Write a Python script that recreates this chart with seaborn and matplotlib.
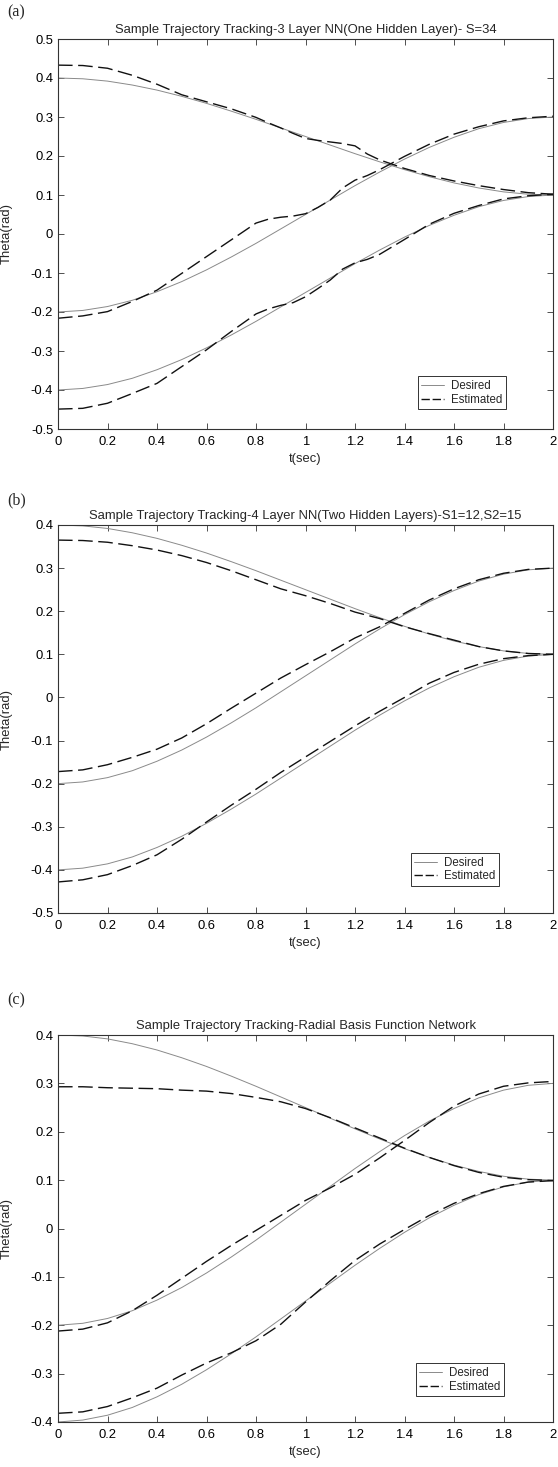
import numpy as np
import pandas as pd
import matplotlib
matplotlib.use("Agg")
import matplotlib.pyplot as plt
from matplotlib.lines import Line2D
from matplotlib.ticker import FuncFormatter, MultipleLocator
import seaborn as sns

# ---------------- data ----------------
t_grid = [0.0, 0.1, 0.2, 0.3, 0.4, 0.5, 0.6, 0.7, 0.8, 0.9, 1.0,
          1.1, 1.2, 1.3, 1.4, 1.5, 1.6, 1.7, 1.8, 1.9, 2.0]

# desired trajectories (same in all three panels)
des_top = [0.400, 0.398, 0.392, 0.382, 0.369, 0.353, 0.335, 0.315, 0.294, 0.272, 0.250,
           0.228, 0.206, 0.185, 0.165, 0.147, 0.131, 0.118, 0.108, 0.102, 0.100]
des_mid = [-0.200, -0.196, -0.186, -0.170, -0.148, -0.122, -0.092, -0.059, -0.024, 0.013, 0.050,
           0.087, 0.124, 0.159, 0.192, 0.222, 0.248, 0.270, 0.286, 0.296, 0.300]
des_bot = [-0.400, -0.396, -0.386, -0.370, -0.348, -0.322, -0.292, -0.259, -0.224, -0.187, -0.150,
           -0.113, -0.076, -0.041, -0.008, 0.022, 0.048, 0.070, 0.086, 0.096, 0.100]

# panel (a): 3 layer NN
t_a = [0.0, 0.1, 0.2, 0.3, 0.4, 0.5, 0.6, 0.7, 0.8, 0.85, 0.9, 0.95, 1.0, 1.05,
       1.1, 1.15, 1.2, 1.25, 1.3, 1.4, 1.5, 1.6, 1.7, 1.8, 1.9, 2.0]
est_a_top = [0.433, 0.432, 0.425, 0.407, 0.384, 0.357, 0.339, 0.321, 0.299, 0.285, 0.272, 0.258, 0.245,
             0.240, 0.236, 0.232, 0.226, 0.205, 0.190, 0.168, 0.150, 0.136, 0.124, 0.114, 0.106, 0.102]
est_a_mid = [-0.216, -0.210, -0.199, -0.173, -0.144, -0.101, -0.058, -0.015, 0.028, 0.038, 0.043, 0.046, 0.052,
             0.068, 0.087, 0.118, 0.138, 0.150, 0.165, 0.199, 0.230, 0.256, 0.275, 0.290, 0.298, 0.302]
est_a_bot = [-0.449, -0.447, -0.434, -0.409, -0.383, -0.340, -0.297, -0.250, -0.205, -0.192, -0.183, -0.176, -0.161,
             -0.140, -0.118, -0.090, -0.074, -0.065, -0.052, -0.014, 0.025, 0.053, 0.073, 0.090, 0.098, 0.102]

# panel (b): 4 layer NN
est_b_top = [0.365, 0.364, 0.360, 0.352, 0.342, 0.329, 0.313, 0.294, 0.273, 0.252, 0.236,
             0.218, 0.198, 0.183, 0.164, 0.148, 0.133, 0.118, 0.108, 0.102, 0.100]
est_b_mid = [-0.172, -0.168, -0.156, -0.139, -0.120, -0.094, -0.061, -0.025, 0.010, 0.045, 0.076,
             0.106, 0.138, 0.164, 0.195, 0.226, 0.252, 0.273, 0.288, 0.297, 0.300]
est_b_bot = [-0.428, -0.423, -0.411, -0.390, -0.365, -0.329, -0.289, -0.250, -0.213, -0.174, -0.138,
             -0.102, -0.066, -0.032, 0.000, 0.033, 0.058, 0.077, 0.090, 0.097, 0.100]

# panel (c): RBF network
est_c_top = [0.293, 0.293, 0.291, 0.290, 0.289, 0.286, 0.284, 0.279, 0.271, 0.262, 0.248,
             0.229, 0.208, 0.187, 0.166, 0.147, 0.130, 0.116, 0.106, 0.101, 0.099]
est_c_mid = [-0.212, -0.208, -0.195, -0.170, -0.138, -0.103, -0.068, -0.035, -0.004, 0.027, 0.058,
             0.084, 0.112, 0.146, 0.182, 0.219, 0.253, 0.278, 0.294, 0.301, 0.304]
est_c_bot = [-0.382, -0.379, -0.368, -0.350, -0.330, -0.303, -0.278, -0.257, -0.232, -0.198, -0.152,
             -0.108, -0.066, -0.032, -0.002, 0.027, 0.052, 0.072, 0.087, 0.096, 0.099]

titles = ["Sample Trajectory Tracking-3 Layer NN(One Hidden Layer)- S=34",
          "Sample Trajectory Tracking-4 Layer NN(Two Hidden Layers)-S1=12,S2=15",
          "Sample Trajectory Tracking-Radial Basis Function Network"]
panel_labels = ["(a)", "(b)", "(c)"]
ylims = [(-0.5, 0.5), (-0.5, 0.4), (-0.4, 0.4)]
legend_labels = ["Desired", "Estimated"]

# ---------------- style ----------------
sns.set_style("ticks")
plt.rcParams["font.family"] = ["Liberation Sans", "DejaVu Sans"]
plt.rcParams["axes.edgecolor"] = "#333333"
plt.rcParams["axes.linewidth"] = 0.8

W, H = 558, 1467
fig = plt.figure(figsize=(W / 100, H / 100), dpi=100)

# axes rectangles in pixels: left, top, right, bottom
rects = [(58, 39, 553, 429), (58, 525, 553, 913), (58, 1035, 553, 1422)]
label_y = [12, 500, 1000]
legend_pos = [(0.727, 0.051), (0.713, 0.070), (0.723, 0.067)]

est_sets = [(t_a, est_a_top, est_a_mid, est_a_bot),
            (t_grid, est_b_top, est_b_mid, est_b_bot),
            (t_grid, est_c_top, est_c_mid, est_c_bot)]

DES_COLOR = "#8a8a8a"
EST_COLOR = "#111111"
EST_DASH = (10.5, 4.0)
FS = 9.4

fmt = FuncFormatter(lambda v, p: ("%g" % round(v, 3)) if abs(v) > 1e-9 else "0")

for i in range(3):
    l, tp, r, b = rects[i]
    ax = fig.add_axes([l / W, 1 - b / H, (r - l) / W, (b - tp) / H])

    des_df = pd.DataFrame({"t": t_grid * 3,
                           "theta": des_top + des_mid + des_bot,
                           "curve": ["top"] * 21 + ["mid"] * 21 + ["bot"] * 21})
    te, e1, e2, e3 = est_sets[i]
    n = len(te)
    est_df = pd.DataFrame({"t": list(te) * 3,
                           "theta": list(e1) + list(e2) + list(e3),
                           "curve": ["top"] * n + ["mid"] * n + ["bot"] * n})

    for c in ["top", "mid", "bot"]:
        sub = des_df[des_df["curve"] == c]
        sns.lineplot(data=sub, x="t", y="theta", ax=ax, color=DES_COLOR,
                     linewidth=0.7, legend=False, estimator=None)
    for c in ["top", "mid", "bot"]:
        sub = est_df[est_df["curve"] == c]
        sns.lineplot(data=sub, x="t", y="theta", ax=ax, color=EST_COLOR,
                     linewidth=1.0, legend=False, estimator=None,
                     dashes=False, linestyle=(0, EST_DASH))

    ax.set_xlim(0, 2)
    ax.set_ylim(*ylims[i])
    ax.xaxis.set_major_locator(MultipleLocator(0.2))
    ax.yaxis.set_major_locator(MultipleLocator(0.1))
    ax.xaxis.set_major_formatter(fmt)
    ax.yaxis.set_major_formatter(fmt)
    ax.tick_params(direction="in", length=4, width=0.6, colors="#333333",
                   labelcolor="black", labelsize=FS, top=True, right=True, pad=3.5)
    ax.tick_params(axis="x", pad=5)
    for s in ax.spines.values():
        s.set_visible(True)
        s.set_color("#333333")
        s.set_linewidth(0.8)

    ax.set_title(titles[i], fontsize=FS, pad=4.5)
    ax.set_xlabel("t(sec)", fontsize=FS, labelpad=3.5)
    ax.set_ylabel("Theta(rad)", fontsize=FS)
    ax.yaxis.set_label_coords(-0.092, 0.5)

    handles = [Line2D([], [], color=DES_COLOR, lw=0.7),
               Line2D([], [], color=EST_COLOR, lw=1.0, linestyle=(0, (6, 2)))]
    leg = ax.legend(handles, legend_labels, loc="lower left",
                    bbox_to_anchor=legend_pos[i], fontsize=8.3, frameon=True,
                    fancybox=False, edgecolor="#333333", framealpha=1,
                    handlelength=2.0, handletextpad=0.6, borderpad=0.3,
                    labelspacing=0.15, borderaxespad=0)
    leg.get_frame().set_linewidth(0.7)

    fig.text(7 / W, 1 - label_y[i] / H, panel_labels[i], va="center", ha="left",
             fontsize=11.5, family=["Liberation Serif", "DejaVu Serif"])

fig.savefig("out.png", dpi=100)
